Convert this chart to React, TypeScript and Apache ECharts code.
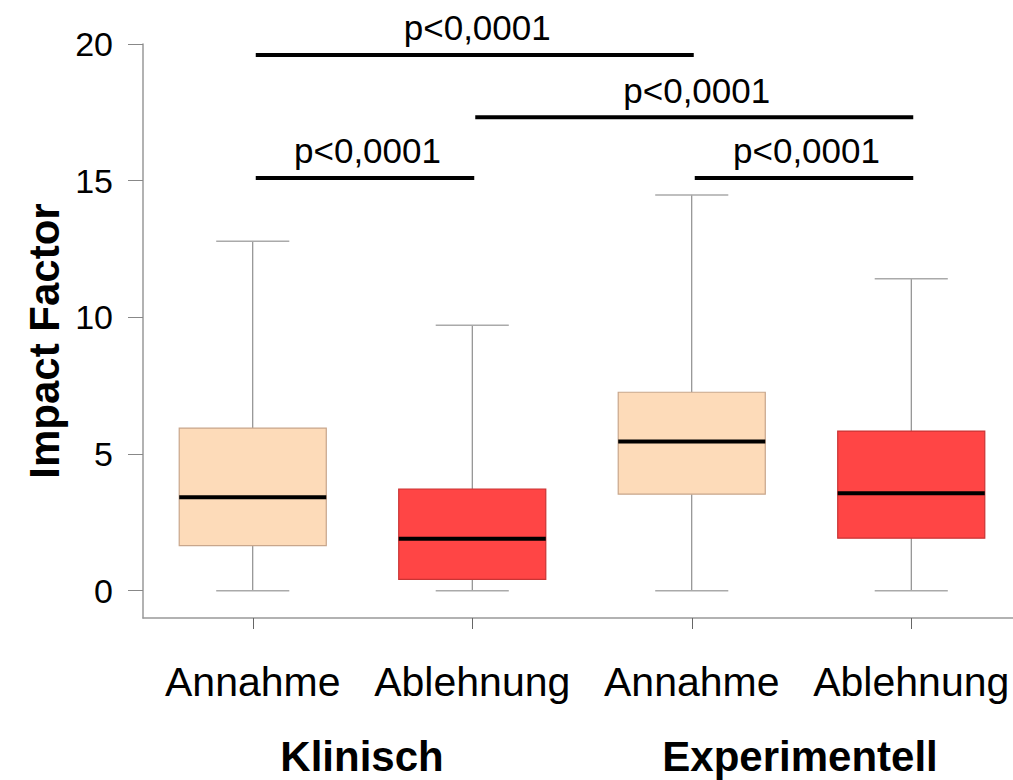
import React, { useEffect, useRef } from "react";
import * as echarts from "echarts";

const categories = ["Annahme", "Ablehnung", "Annahme", "Ablehnung"];
const groups = ["Klinisch", "Experimentell"];
const categoryKeys = ["K-Annahme", "K-Ablehnung", "E-Annahme", "E-Ablehnung"];
const mins = [0, 0, 0, 0];
const q1s = [1.65, 0.41, 3.53, 1.92];
const medians = [3.42, 1.9, 5.46, 3.56];
const q3s = [5.95, 3.72, 7.26, 5.84];
const maxs = [12.78, 9.71, 14.48, 11.41];
const yTicks = [0, 5, 10, 15, 20];
const bracketStart = [0, 1, 0, 2];
const bracketEnd = [2, 3, 1, 3];
const bracketLevel = [19.6, 17.32, 15.1, 15.1];
const bracketLabels = ["p<0,0001", "p<0,0001", "p<0,0001", "p<0,0001"];
const yAxisName = "Impact Factor";

const FONT = "'Liberation Sans', Arial, Helvetica, sans-serif";
const fills = ["#FDDBB9", "#FF4545", "#FDDBB9", "#FF4545"];
const borders = ["#C8A68C", "#C93434", "#C8A68C", "#C93434"];

export default function App() {
  const ref = useRef<HTMLDivElement>(null);
  useEffect(() => {
    if (!ref.current) return;
    const chart = echarts.init(ref.current, undefined, { renderer: "svg" });
    const boxData = categories.map((_, i) => [i, mins[i], q1s[i], medians[i], q3s[i], maxs[i]]);
    const bracketData = bracketStart.map((s, i) => [s, bracketEnd[i], bracketLevel[i]]);
    chart.setOption({
      animation: false,
      grid: { left: 143, width: 878, top: 44, bottom: 162, containLabel: false, outerBoundsMode: "none" },
      xAxis: {
        type: "category",
        data: categoryKeys,
        boundaryGap: true,
        axisLine: { show: true, onZero: false, lineStyle: { color: "#999", width: 1.5 } },
        axisTick: { show: true, alignWithLabel: true, length: 11, interval: 0, lineStyle: { color: "#666" } },
        axisLabel: {
          formatter: (_v: string, i: number) => categories[i],
          interval: 0,
          hideOverlap: false,
          fontSize: 41,
          color: "#000",
          margin: 43,
          fontFamily: FONT,
        },
        splitLine: { show: false },
      },
      yAxis: {
        type: "value",
        min: -1,
        max: 20,
        axisLine: { show: true, lineStyle: { color: "#999", width: 1.5 } },
        axisTick: { show: true, length: 15, customValues: yTicks, lineStyle: { color: "#888" } },
        axisLabel: { customValues: yTicks, fontSize: 34, color: "#000", margin: 30, fontFamily: FONT },
        splitLine: { show: false },
      },
      graphic: [
        {
          type: "text",
          x: 44,
          y: 341,
          rotation: Math.PI / 2,
          style: {
            text: yAxisName,
            font: `bold 42px ${FONT}`,
            fill: "#000",
            align: "center",
            verticalAlign: "middle",
          },
        },
        {
          type: "text",
          x: 362,
          y: 756,
          style: { text: groups[0], font: `bold 42px ${FONT}`, fill: "#000", align: "center", verticalAlign: "middle" },
        },
        {
          type: "text",
          x: 800,
          y: 756,
          style: { text: groups[1], font: `bold 42px ${FONT}`, fill: "#000", align: "center", verticalAlign: "middle" },
        },
      ],
      series: [
        {
          type: "custom",
          data: boxData,
          encode: { x: 0, y: [1, 2, 3, 4, 5] },
          renderItem: (params: any, api: any) => {
            const x = api.value(0);
            const idx = params.dataIndex;
            const pMin = api.coord([x, api.value(1)]);
            const pQ1 = api.coord([x, api.value(2)]);
            const pMed = api.coord([x, api.value(3)]);
            const pQ3 = api.coord([x, api.value(4)]);
            const pMax = api.coord([x, api.value(5)]);
            const band = api.size([1, 0])[0];
            const bw = band * 0.67;
            const cw = band * 0.333;
            const cx = pMed[0];
            const wStyle = { stroke: "#777", lineWidth: 1 };
            const capStyle = { stroke: "#aaa", lineWidth: 1.5 };
            return {
              type: "group",
              children: [
                { type: "line", shape: { x1: cx, y1: pMax[1], x2: cx, y2: pQ3[1] }, style: wStyle },
                { type: "line", shape: { x1: cx, y1: pQ1[1], x2: cx, y2: pMin[1] }, style: wStyle },
                { type: "line", shape: { x1: cx - cw / 2, y1: pMax[1], x2: cx + cw / 2, y2: pMax[1] }, style: capStyle },
                { type: "line", shape: { x1: cx - cw / 2, y1: pMin[1], x2: cx + cw / 2, y2: pMin[1] }, style: capStyle },
                {
                  type: "rect",
                  shape: { x: cx - bw / 2, y: pQ3[1], width: bw, height: pQ1[1] - pQ3[1] },
                  style: { fill: fills[idx], stroke: borders[idx], lineWidth: 1.2 },
                },
                { type: "line", shape: { x1: cx - bw / 2, y1: pMed[1], x2: cx + bw / 2, y2: pMed[1] }, style: { stroke: "#000", lineWidth: 4 } },
              ],
            };
          },
          z: 2,
        },
        {
          type: "custom",
          data: bracketData,
          encode: { x: [0, 1], y: 2 },
          clip: false,
          renderItem: (params: any, api: any) => {
            const idx = params.dataIndex;
            const p1 = api.coord([api.value(0), api.value(2)]);
            const p2 = api.coord([api.value(1), api.value(2)]);
            return {
              type: "group",
              children: [
                { type: "line", shape: { x1: p1[0] + 3, y1: p1[1], x2: p2[0] + 2, y2: p2[1] }, style: { stroke: "#000", lineWidth: 4 } },
                {
                  type: "text",
                  x: (p1[0] + p2[0]) / 2 + 5,
                  y: p1[1] - 27,
                  style: {
                    text: bracketLabels[idx],
                    font: `35px ${FONT}`,
                    fill: "#000",
                    align: "center",
                    verticalAlign: "middle",
                  },
                },
              ],
            };
          },
          z: 3,
        },
      ],
    });
    return () => chart.dispose();
  }, []);
  return <div ref={ref} style={{ position: "absolute", left: 0, top: 0, width: 1013, height: 780 }} />;
}
